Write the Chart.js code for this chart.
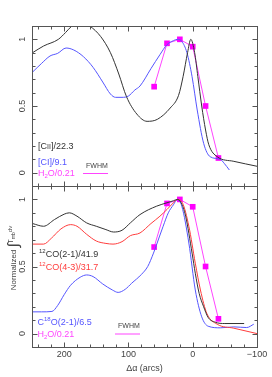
<!DOCTYPE html>
<html>
<head>
<meta charset="utf-8">
<script src="https://cdn.jsdelivr.net/npm/chart.js@4.4.1/dist/chart.umd.min.js"></script>
<style>
  body { margin: 0; background: #fff; }
  #wrap { position: relative; width: 272px; height: 377px; }
  canvas { position: absolute; left: 0; top: 0; }
</style>
</head>
<body>
<div id="wrap">
  <canvas id="topChart" width="272" height="377"></canvas>
  <canvas id="botChart" width="272" height="377"></canvas>
</div>
<script>
// offsets (arcsec) and normalized intensities
const h2oX = [60, 40, 20, 0, -20, -40];
const h2oY = [0.645, 0.97, 1.0, 0.945, 0.50, 0.11];

// top panel
const ciiX = [249, 232, 209, 198, 188, 175, 160, 143, 128, 115, 103, 87, 71, 55, 35, 22, 15, 8, 3, -3, -8, -14, -20, -25, -38, -64, -100];
const ciiY = [0.90, 0.95, 1.0, 1.05, 1.10, 1.14, 1.10, 1.02, 0.90, 0.74, 0.57, 0.44, 0.385, 0.40, 0.485, 0.58, 0.72, 0.90, 1.0, 0.90, 0.72, 0.50, 0.32, 0.21, 0.12, 0.085, 0.048];
const ciX = [249, 235, 222, 210, 197, 185, 170, 155, 140, 128, 120, 110, 100, 90, 82, 65, 51, 40, 30, 24, 17, 9, 1, -7, -17, -27, -43, -49, -57];
const ciY = [0.755, 0.82, 0.875, 0.895, 0.935, 0.92, 0.87, 0.79, 0.68, 0.59, 0.565, 0.565, 0.575, 0.62, 0.65, 0.78, 0.885, 0.96, 0.99, 1.0, 0.985, 0.90, 0.72, 0.47, 0.22, 0.12, 0.10, 0.07, 0.02];

// bottom panel
const co21X = [249, 232, 215, 200, 192, 180, 165, 150, 135, 123, 110, 97, 82, 56, 40, 30, 24, 18, 11, 1, -4, -10, -17, -24, -35, -50, -80];
const co21Y = [0.82, 0.80, 0.85, 0.89, 0.90, 0.875, 0.825, 0.80, 0.775, 0.757, 0.77, 0.825, 0.887, 0.95, 0.975, 0.99, 1.0, 0.975, 0.875, 0.60, 0.45, 0.30, 0.20, 0.12, 0.085, 0.075, 0.075];
const co43X = [249, 232, 220, 205, 190, 180, 165, 150, 135, 124, 110, 97, 82, 65, 51, 40, 30, 24, 16, 6, -4, -12, -22, -38, -64, -100];
const co43Y = [0.667, 0.667, 0.71, 0.78, 0.812, 0.80, 0.74, 0.69, 0.672, 0.667, 0.685, 0.73, 0.75, 0.82, 0.875, 0.925, 0.975, 1.0, 0.975, 0.80, 0.525, 0.325, 0.15, 0.07, 0.04, 0.0];
const c18oX = [249, 235, 219, 210, 200, 190, 175, 165, 155, 140, 125, 116, 105, 95, 80, 70, 61, 52, 46, 38, 30, 24, 17, 6, -4, -14, -24, -43, -64, -84, -95];
const c18oY = [0.162, 0.162, 0.165, 0.21, 0.29, 0.36, 0.42, 0.437, 0.425, 0.37, 0.325, 0.307, 0.33, 0.375, 0.44, 0.50, 0.60, 0.72, 0.80, 0.90, 0.96, 1.0, 0.95, 0.675, 0.325, 0.125, 0.055, 0.043, 0.05, 0.045, 0.07];

const xMajor = [200, 100, 0, -100];
const yMajor = [0, 0.5, 1];
const yLabels = ['0', '0.5', '1'];
const xLabels = ['200', '100', '0', '\u2212100'];

const FONT = '"Liberation Sans", Arial, sans-serif';
const BLACK = '#333333', BLUE = '#5555ff', RED = '#ff3c3c', MAG = '#ff44ff';

function pts(xs, ys) {
    return xs.map((x, i) => ({ x: x, y: ys[i] }));
}

function curve(xs, ys, color) {
    return {
        data: pts(xs, ys), borderColor: color, borderWidth: 1, pointRadius: 0,
        cubicInterpolationMode: 'monotone', fill: false
    };
}

function water() {
    return {
        data: pts(h2oX, h2oY), borderColor: MAG, borderWidth: 1, tension: 0,
        pointStyle: 'rect', pointRadius: 4, pointBackgroundColor: '#ff00ff',
        pointBorderColor: '#ff00ff', pointBorderWidth: 0
    };
}

// draws rich text: parts = [[text, size, shift]]
function rich(ctx, parts, x, y, color, align) {
    let w = 0;
    parts.forEach(p => { ctx.font = p[1] + 'px ' + FONT; w += ctx.measureText(p[0]).width; });
    let cx = align === 'center' ? x - w / 2 : x;
    ctx.fillStyle = color;
    ctx.textBaseline = 'alphabetic';
    ctx.textAlign = 'left';
    parts.forEach(p => {
        ctx.font = p[1] + 'px ' + FONT;
        ctx.fillText(p[0], cx, y + (p[2] || 0));
        cx += ctx.measureText(p[0]).width;
    });
}

const framePlugin = {
    id: 'frame',
    afterDraw(chart, args, opts) {
        const { ctx, chartArea: a, scales: { x, y } } = chart;
        ctx.save();
        ctx.strokeStyle = '#555';
        ctx.lineWidth = 1;
        const L = Math.round(a.left) + 0.5, R = Math.round(a.right) + 0.5;
        const T = Math.round(a.top) + 0.5, B = Math.round(a.bottom) + 0.5;
        ctx.strokeRect(L, T, R - L, B - T);
        ctx.beginPath();
        for (let v = -100; v <= 240; v += 20) {
            const px = Math.round(x.getPixelForValue(v)) + 0.5;
            const len = v % 100 === 0 ? 5 : 3;
            ctx.moveTo(px, B); ctx.lineTo(px, B - len);
            ctx.moveTo(px, T); ctx.lineTo(px, T + len);
        }
        for (let i = 0; i <= 10; i++) {
            const v = i / 10;
            const py = Math.round(y.getPixelForValue(v)) + 0.5;
            const len = (i % 5 === 0) ? 5 : 3;
            ctx.moveTo(L, py); ctx.lineTo(L + len, py);
            ctx.moveTo(R, py); ctx.lineTo(R - len, py);
        }
        ctx.stroke();

        ctx.fillStyle = '#444';
        ctx.font = '9px ' + FONT;
        ctx.textAlign = 'center';
        ctx.textBaseline = 'middle';
        yMajor.forEach((v, i) => {
            ctx.save();
            ctx.translate(22.5, y.getPixelForValue(v));
            ctx.rotate(-Math.PI / 2);
            ctx.fillText(yLabels[i], 0, 0);
            ctx.restore();
        });
        if (opts.xAxis) {
            xMajor.forEach((v, i) => ctx.fillText(xLabels[i], x.getPixelForValue(v), 354.5));
            rich(ctx, [['\u0394', 9], ['\u03b1', 9], [' (arcs)', 9]], (a.left + a.right) / 2, 371, '#444', 'center');
            ctx.save();
            ctx.translate(12.5, 258);
            ctx.rotate(-Math.PI / 2);
            rich(ctx, [['Normalized ', 8], ['\u222b', 15, 2], ['T', 7, -3], ['mb', 5, -1], ['dv', 6, -4]], 0, 3, '#444', 'center');
            ctx.restore();
        }
        opts.labels.forEach(l => rich(ctx, l.parts, l.x, l.y, l.color, 'left'));
        ctx.fillStyle = '#444';
        ctx.font = '7px ' + FONT;
        ctx.textAlign = 'left';
        ctx.textBaseline = 'middle';
        ctx.fillText('FWHM', opts.fwhm[0] + 3, opts.fwhm[1] - 7);
        ctx.strokeStyle = MAG;
        ctx.beginPath();
        ctx.moveTo(opts.fwhm[0], opts.fwhm[1] + 0.5);
        ctx.lineTo(opts.fwhm[0] + 25, opts.fwhm[1] + 0.5);
        ctx.stroke();
        ctx.restore();
    }
};

function makeChart(id, datasets, padTop, padBottom, frameOpts) {
    return new Chart(document.getElementById(id), {
        type: 'line',
        data: { datasets: datasets },
        options: {
            responsive: false,
            animation: false,
            events: [],
            layout: { padding: { left: 32, right: 15, top: padTop, bottom: padBottom } },
            plugins: { legend: { display: false }, tooltip: { enabled: false }, frame: frameOpts },
            scales: {
                x: { type: 'linear', reverse: true, min: -100, max: 250, display: false },
                y: { type: 'linear', min: -0.1, max: 1.1, display: false }
            }
        },
        plugins: [framePlugin]
    });
}

makeChart('topChart', [curve(ciiX, ciiY, BLACK), curve(ciX, ciY, BLUE), water()], 26, 191, {
    xAxis: false,
    fwhm: [83, 173],
    labels: [
        { x: 38, y: 149, color: BLACK, parts: [['[C', 9], ['II', 7], [']/22.3', 9]] },
        { x: 38, y: 164.5, color: BLUE, parts: [['[CI]/9.1', 9]] },
        { x: 38, y: 176, color: MAG, parts: [['H', 9], ['2', 6, 2], ['O/0.21', 9]] }
    ]
});

makeChart('botChart', [curve(co21X, co21Y, BLACK), curve(co43X, co43Y, RED), curve(c18oX, c18oY, BLUE), water()], 186, 30, {
    xAxis: true,
    fwhm: [115, 333.5],
    labels: [
        { x: 39, y: 256.5, color: BLACK, parts: [['12', 6, -4], ['CO(2-1)/41.9', 9]] },
        { x: 39, y: 269.5, color: RED, parts: [['12', 6, -4], ['CO(4-3)/31.7', 9]] },
        { x: 37.5, y: 324.5, color: BLUE, parts: [['C', 9], ['18', 6, -4], ['O(2-1)/6.5', 9]] },
        { x: 37.5, y: 337, color: MAG, parts: [['H', 9], ['2', 6, 2], ['O/0.21', 9]] }
    ]
});
</script>
</body>
</html>
